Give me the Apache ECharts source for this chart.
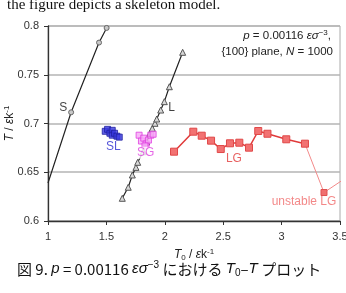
<!DOCTYPE html>
<html><head><meta charset="utf-8">
<script src="https://cdn.jsdelivr.net/npm/echarts@6/dist/echarts.min.js"></script>
<style>html,body{margin:0;padding:0;background:#fff}#c{width:346px;height:293px}</style>
</head><body><div id="c"></div>
<script>
// ---- data ----
const xTicks = [1, 1.5, 2, 2.5, 3, 3.5];
const yTicks = [0.6, 0.65, 0.7, 0.75, 0.8];
const S_T0 = [1.0, 1.198, 1.437, 1.502];
const S_T  = [0.639, 0.7115, 0.783, 0.798];
const L_T0 = [1.636, 1.687, 1.722, 1.753, 1.768, 1.815, 1.845, 1.873, 1.893, 1.916, 1.931, 1.965, 1.996, 2.039, 2.153];
const L_T  = [0.6233, 0.6346, 0.6472, 0.655, 0.6602, 0.671, 0.681, 0.690, 0.695, 0.7002, 0.7046, 0.7138, 0.7224, 0.7377, 0.773];
const SL_T0 = [1.49, 1.51, 1.53, 1.55, 1.55, 1.57, 1.59, 1.61];
const SL_T  = [0.692, 0.694, 0.690, 0.693, 0.688, 0.690, 0.687, 0.686];
const SG_T0 = [1.78, 1.80, 1.82, 1.84, 1.86, 1.88, 1.90, 1.83];
const SG_T  = [0.688, 0.682, 0.685, 0.679, 0.683, 0.688, 0.689, 0.677];
const LG_T0 = [2.079, 2.244, 2.316, 2.396, 2.479, 2.558, 2.638, 2.721, 2.800, 2.879, 3.040, 3.200];
const LG_T  = [0.6711, 0.6916, 0.6875, 0.6824, 0.6738, 0.6797, 0.6803, 0.6752, 0.6923, 0.6895, 0.6838, 0.6793];
const UL_T0 = [3.200, 3.363, 3.56];
const UL_T  = [0.6793, 0.6292, 0.645];
const labelText = ['S', 'L', 'SL', 'SG', 'LG', 'unstable LG'];
const labelT0   = [1.131, 2.059, 1.559, 1.836, 2.592, 3.192];
const labelT    = [0.7166, 0.7166, 0.6762, 0.670, 0.6636, 0.6198];
const labelColor = ['#111', '#111', '#2a2ad0', '#e040e0', '#e23a3a', '#f06a6a'];

const zip = (a, b) => a.map((v, i) => [v, b[i]]);
const FONT = 'Liberation Sans, Arial, sans-serif';

const chart = echarts.init(document.getElementById('c'), null, {renderer: 'canvas'});
const supStyle = {fontSize: 8, lineHeight: 8, verticalAlign: 'top', fontFamily: FONT, color: '#222'};
chart.setOption({
  animation: false,
  grid: {left: 48, right: 6, top: 26, bottom: 72, show: true, borderColor: '#aaa', borderWidth: 1,
         containLabel: false, outerBoundsMode: 'none'},
  xAxis: {
    type: 'value', min: xTicks[0], max: xTicks[xTicks.length - 1], interval: 0.5,
    axisLine: {show: true, lineStyle: {color: '#333', width: 1.3}},
    axisTick: {show: true, inside: false, length: 4, lineStyle: {color: '#333'}},
    axisLabel: {color: '#333', fontSize: 11, fontFamily: FONT, margin: 10},
    splitLine: {show: false},
    name: '{i|T}{sub|0} / {i|ε}k{sup|-1}', nameLocation: 'middle', nameGap: 27, nameMoveOverlap: false,
    nameTextStyle: {color: '#222', fontSize: 12, fontFamily: FONT, lineHeight: 14,
      rich: {i: {fontStyle: 'italic', fontSize: 12, fontFamily: FONT, color: '#222'},
             sub: {fontSize: 8, lineHeight: 8, verticalAlign: 'bottom', fontFamily: FONT, color: '#222'},
             sup: supStyle}}
  },
  yAxis: {
    type: 'value', min: yTicks[0], max: yTicks[yTicks.length - 1], interval: 0.05,
    axisLine: {show: true, lineStyle: {color: '#333', width: 1.3}},
    axisTick: {show: true, inside: false, length: 4, lineStyle: {color: '#333'}},
    axisLabel: {color: '#333', fontSize: 11, fontFamily: FONT, margin: 9},
    splitLine: {show: true, lineStyle: {color: '#b5b5b5', width: 1.5}},
    name: '{i|T} / {i|ε}k{sup|-1}', nameLocation: 'middle', nameGap: 31, nameMoveOverlap: false,
    nameTextStyle: {color: '#222', fontSize: 12, fontFamily: FONT, lineHeight: 14,
      rich: {i: {fontStyle: 'italic', fontSize: 12, fontFamily: FONT, color: '#222'}, sup: supStyle}}
  },
  series: [
    {type: 'line', data: S_T0.map((v, i) => ({value: [v, S_T[i]], symbol: i === 0 ? 'none' : 'circle'})),
     symbolSize: 5, lineStyle: {color: '#222', width: 1.2}, itemStyle: {color: '#c8c8c8', borderColor: '#666', borderWidth: 1}, z: 3},
    {type: 'line', data: zip(L_T0, L_T), symbol: 'triangle', symbolSize: 6,
     lineStyle: {color: '#222', width: 1.2}, itemStyle: {color: '#d8d8d8', borderColor: '#555', borderWidth: 1}, z: 3},
    {type: 'scatter', data: zip(SL_T0, SL_T), symbol: 'rect', symbolSize: 6,
     itemStyle: {color: '#3a3ae0', borderColor: '#1f1fa0', borderWidth: 1}, z: 4},
    {type: 'scatter', data: zip(SG_T0, SG_T), symbol: 'rect', symbolSize: 6,
     itemStyle: {color: '#f6a6f6', borderColor: '#e040e0', borderWidth: 1}, z: 4},
    {type: 'line', data: zip(UL_T0, UL_T).map((p, i) => ({value: p, symbol: i === 1 ? 'rect' : 'none'})),
     symbolSize: 6, lineStyle: {color: '#f38a8a', width: 1}, itemStyle: {color: '#f07070', borderColor: '#e05050', borderWidth: 1}, z: 3},
    {type: 'line', data: zip(LG_T0, LG_T), symbol: 'rect', symbolSize: 7,
     lineStyle: {color: '#e03a3a', width: 1.5}, itemStyle: {color: '#f27272', borderColor: '#e04848', borderWidth: 1}, z: 4},
    {type: 'scatter', symbolSize: 0, z: 6, silent: true,
     data: labelText.map((t, i) => ({value: [labelT0[i], labelT[i]], name: t,
       label: {show: true, position: 'inside', formatter: t, color: labelColor[i],
               fontSize: 12, fontFamily: FONT,
               backgroundColor: t === 'SG' ? '#fff' : 'transparent', padding: t === 'SG' ? [0, 1] : 0}}))}
  ],
  graphic: [
    {type: 'text', left: 7, top: -2, style: {text: 'the figure depicts a skeleton model.',
      font: '15px "Liberation Serif", "Times New Roman", serif', fill: '#111'}},
    {type: 'text', right: 15, top: 29, style: {
      text: '{i|p} = 0.00116 {i|εσ}{sup|−3},', fill: '#222', font: '11.5px ' + FONT, lineHeight: 14,
      rich: {i: {fontStyle: 'italic', fontSize: 11.5, fontFamily: FONT, fill: '#222'},
             sup: {fontSize: 8, lineHeight: 8, verticalAlign: 'top', fontFamily: FONT, fill: '#222'}}}},
    {type: 'text', right: 13, top: 46, style: {
      text: '{100} plane, {i|N} = 1000', fill: '#222', font: '11.5px ' + FONT,
      rich: {i: {fontStyle: 'italic', fontSize: 11.5, fontFamily: FONT, fill: '#222'}}}},
    {type: 'text', left: 17, top: 260, style: {
      text: '図 9. {i|p} = 0.00116 {i|εσ}{sup|−3} における {i|T}{sub|0}–{i|T} プロット', fill: '#111',
      font: '15px "Noto Sans CJK JP", sans-serif', lineHeight: 18,
      rich: {i: {fontStyle: 'italic', fontSize: 15, fontFamily: 'Liberation Sans, Arial', fill: '#111'},
             sup: {fontSize: 10, lineHeight: 10, verticalAlign: 'top', fontFamily: 'Liberation Sans, Arial', fill: '#111'},
             sub: {fontSize: 10, lineHeight: 10, verticalAlign: 'bottom', fontFamily: 'Liberation Sans, Arial', fill: '#111'}}}}
  ]
});
</script></body></html>
